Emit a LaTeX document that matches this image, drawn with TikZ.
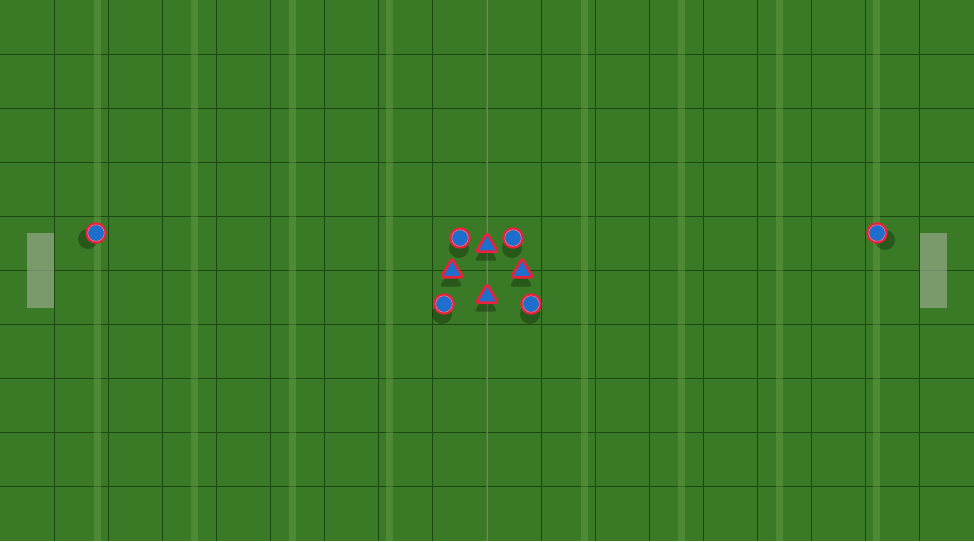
\documentclass[tikz,border=0pt]{standalone}
\usetikzlibrary{shapes.geometric}
\definecolor{grass}{RGB}{58,122,38}
\definecolor{gridc}{RGB}{28,72,18}
\definecolor{stripe}{RGB}{110,160,80}
\definecolor{goalc}{RGB}{150,168,138}
\definecolor{pblue}{RGB}{30,110,205}
\definecolor{pred}{RGB}{232,34,60}
\definecolor{pring}{RGB}{240,120,140}
\tikzset{
  gridline/.style={draw=gridc, line width=0.9},
  stripeline/.style={fill=stripe, opacity=0.4},
  centreline/.style={draw=stripe!85!white, line width=2, opacity=0.5},
  goalbox/.style={fill=goalc, opacity=0.7},
  shadowdisc/.style={fill=black, opacity=0.28},
  disc/.style={circle, draw=pred, fill=pblue, line width=2.4, minimum size=19, inner sep=0},
  tri/.style={regular polygon, regular polygon sides=3, draw=pred, fill=pblue, line width=2.6, minimum size=25, inner sep=0, rounded corners=2.5},
  trishadow/.style={regular polygon, regular polygon sides=3, fill=black, opacity=0.28, minimum size=26, inner sep=0, rounded corners=2.5},
  ring/.style={circle, draw=pring, line width=0.6, minimum size=16.5, inner sep=0}
}
\begin{document}
\begin{tikzpicture}[x=1pt,y=-1pt]
\useasboundingbox (0,0) rectangle (974,541);
\fill[grass] (0,0) rectangle (974,541);
% grid
\foreach \k in {1,...,17} \draw[gridline] ({54.1*\k},0) -- ({54.1*\k},541);
\foreach \k in {1,...,9} \draw[gridline] (0,{54.1*\k}) -- (974,{54.1*\k});
% stripes
\foreach \k in {1,2,3,4,6,7,8,9} {
  \fill[stripeline] ({97.4*\k-3.5},0) rectangle ({97.4*\k+3.5},541);
}
\draw[centreline] (487,0) -- (487,541);
% goals
\fill[goalbox] (27,233) rectangle (54,308);
\fill[goalbox] (920,233) rectangle (947,308);
% shadows
\fill[shadowdisc] (88,239) circle (10);
\fill[shadowdisc] (885,240) circle (10);
\fill[shadowdisc] (459,248) circle (10);
\fill[shadowdisc] (512,248) circle (10);
\fill[shadowdisc] (442,314) circle (10);
\fill[shadowdisc] (530,314) circle (10);
\node[trishadow] at (486,254) {};
\node[trishadow] at (451,280) {};
\node[trishadow] at (521,280) {};
\node[trishadow] at (486,305) {};
% players
\node[disc] (gkl) at (96,233) {};
\node[disc] (gkr) at (877,233) {};
\node[disc] (p1) at (460,238) {};
\node[disc] (p2) at (513,238) {};
\node[disc] (p3) at (444,304) {};
\node[disc] (p4) at (531,304) {};
\foreach \n in {gkl,gkr,p1,p2,p3,p4} \node[ring] at (\n) {};
\node[tri] (t1) at (487,245.5) {};
\node[tri] (t2) at (452,271) {};
\node[tri] (t3) at (522,271) {};
\node[tri] (t4) at (487,296.5) {};
\end{tikzpicture}
\end{document}
